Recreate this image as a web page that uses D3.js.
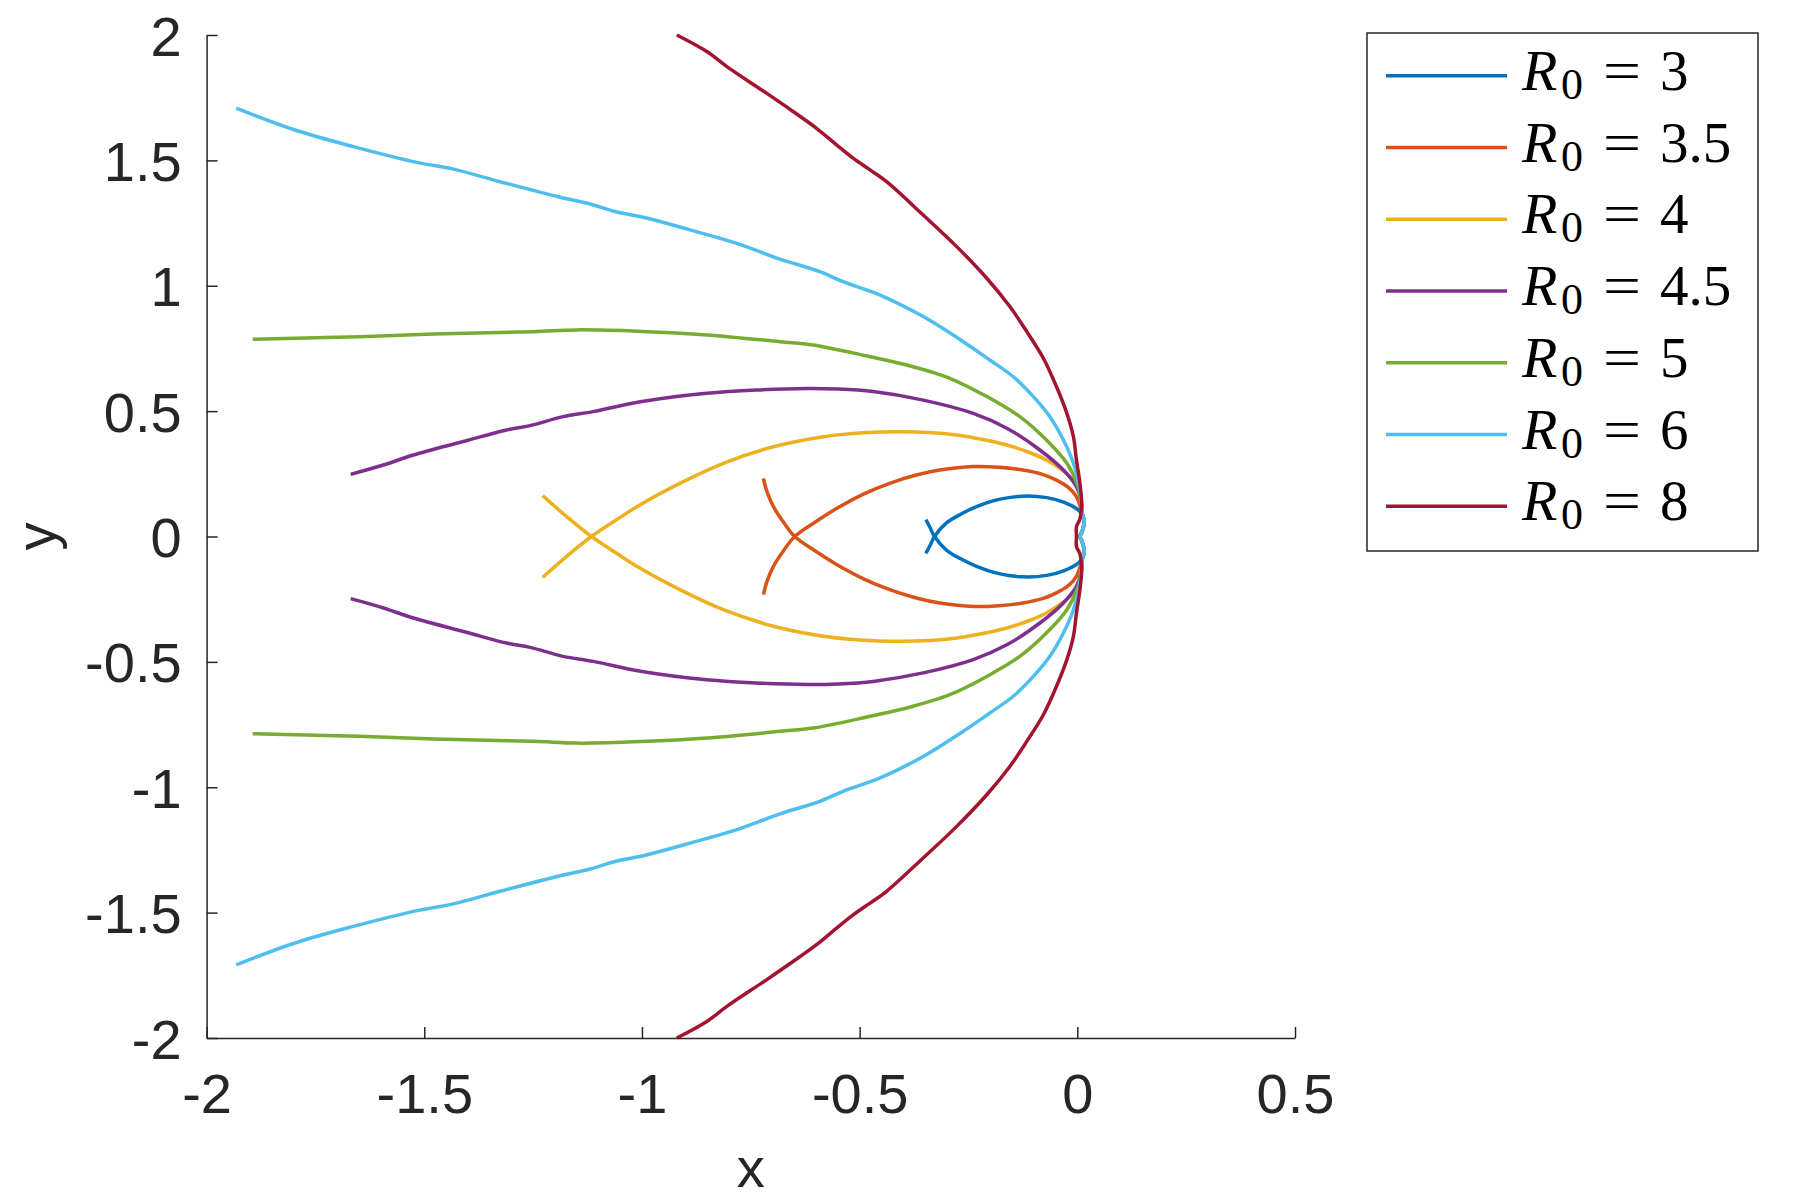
<!DOCTYPE html>
<html lang="en" dir="ltr">
  <head>
    <meta charset="utf-8">
    <title>Trajectories</title>
    <style>
      body { margin: 0; background: #fff; }
      svg { display: block; }
    </style>
  </head>
  <body>
      <svg></svg>
      <script src="https://d3js.org/d3.v7.min.js"></script>
      <script type="text/javascript">
        // upper branch of each curve (curves are symmetric in y)
        var r3 = [[-0.348,-0.067],[-0.338,-0.035],[-0.328,0],[-0.30,0.055],[-0.269,0.088],[-0.23,0.12],[-0.18,0.148],
          [-0.125,0.161],[-0.07,0.155],[-0.03,0.136],[0.002,0.106],[0.012,0.085],[0.016,0.06],[0.011,0.02],[0.006,0]];
        var r35 = [[-0.721,-0.232],[-0.712,-0.175],[-0.698,-0.119],[-0.672,-0.05],[-0.649,0],[-0.60,0.06],[-0.546,0.119],
          [-0.49,0.17],[-0.431,0.212],[-0.37,0.245],[-0.316,0.265],[-0.239,0.279],[-0.18,0.276],[-0.125,0.265],
          [-0.08,0.248],[-0.048,0.225],[-0.02,0.195],[-0.002,0.159],[0.012,0.085],[0.016,0.06],[0.011,0.02],[0.006,0]];
        var r4 = [[-1.228,-0.163],[-1.173,-0.079],[-1.116,0],[-1.06,0.065],[-1.005,0.126],[-0.905,0.219],
          [-0.813,0.292],[-0.698,0.358],[-0.583,0.398],[-0.50,0.413],[-0.406,0.418],[-0.34,0.415],[-0.277,0.405],
          [-0.22,0.388],[-0.162,0.365],[-0.11,0.335],[-0.071,0.305],[-0.035,0.265],[-0.009,0.225],[0.006,0.17],
          [0.012,0.085],[0.016,0.06],[0.011,0.02],[0.006,0]];
        var r45 = [[-1.669,0.248],[-1.594,0.285],[-1.525,0.325],[-1.403,0.382],[-1.311,0.425],[-1.257,0.442],
          [-1.181,0.478],[-1.112,0.498],[-1.0,0.538],[-0.851,0.571],[-0.737,0.584],[-0.622,0.590],[-0.55,0.588],
          [-0.469,0.578],[-0.354,0.544],[-0.239,0.491],[-0.162,0.432],[-0.086,0.345],[-0.032,0.265],[-0.002,0.199],
          [0.008,0.15],[0.012,0.085],[0.016,0.06],[0.011,0.02],[0.006,0]];
        var r5 = [[-1.894,0.787],[-1.77,0.792],[-1.648,0.797],[-1.479,0.808],[-1.25,0.817],[-1.15,0.824],
          [-1.0,0.818],[-0.851,0.804],[-0.683,0.777],[-0.607,0.764],[-0.476,0.717],[-0.392,0.684],[-0.293,0.631],
          [-0.208,0.558],[-0.132,0.478],[-0.071,0.385],[-0.024,0.292],[0.002,0.199],[0.009,0.14],[0.012,0.085],
          [0.016,0.06],[0.011,0.02],[0.006,0]];
        var r6 = [[-1.932,1.708],[-1.797,1.621],[-1.663,1.555],[-1.514,1.491],[-1.433,1.465],[-1.326,1.415],
          [-1.188,1.353],[-1.119,1.326],[-1.062,1.296],[-0.99,1.27],[-0.890,1.223],[-0.782,1.169],[-0.683,1.106],
          [-0.591,1.056],[-0.538,1.016],[-0.453,0.963],[-0.354,0.877],[-0.262,0.777],[-0.201,0.704],[-0.147,0.637],
          [-0.101,0.558],[-0.063,0.478],[-0.032,0.385],[-0.009,0.292],[0.006,0.185],[0.012,0.085],[0.016,0.06],
          [0.011,0.02],[0.006,0]];
        var r8 = [[-0.920,2.0],[-0.851,1.934],[-0.805,1.874],[-0.714,1.768],[-0.653,1.695],[-0.599,1.628],
          [-0.553,1.562],[-0.515,1.509],[-0.476,1.462],[-0.438,1.415],[-0.354,1.282],[-0.277,1.156],[-0.208,1.030],
          [-0.155,0.917],[-0.116,0.817],[-0.078,0.711],[-0.048,0.598],[-0.024,0.491],[-0.009,0.398],[-0.002,0.305],
          [0.006,0.212],[0.010,0.132],[0.006,0.07],[-0.002,0.039],[-0.002,0]];

        var branches = [r3, r35, r4, r45, r5, r6, r8];
        var r0Labels = ["3", "3.5", "4", "4.5", "5", "6", "8"];
        var colors = ["#0072BD", "#D95319", "#EDB120", "#7E2F8E", "#77AC30", "#4DBEEE", "#A2142F"];
        var xTicks = [-2, -1.5, -1, -0.5, 0, 0.5];
        var yTicks = [-2, -1.5, -1, -0.5, 0, 0.5, 1, 1.5, 2];

        width = 1800;
        height = 1200;
        var axisColor = "#262626";
        svg = d3.select('svg')
              .attr("width", width)
              .attr("height", height)
              .style("font-family", "'Liberation Sans', Arial, sans-serif");

        var x = d3.scaleLinear().domain([-2, 0.5]).range([206.6, 1295]);
        var y = d3.scaleLinear().domain([-2, 2]).range([1038, 35]);

        // full curve: upper branch then its mirror back out
        function fullCurve(b) {
          var lower = b.map(function(p){ return [p[0], -p[1]]; }).reverse();
          return b.concat(lower.slice(1));
        }

        var line = d3.line()
                     .curve(d3.curveCatmullRom.alpha(0.5))
                     .x(function(d){ return x(d[0]); })
                     .y(function(d){ return y(d[1]); });

        svg.selectAll("path.curve")
           .data(branches)
           .enter()
           .append("path")
           .attr("class", "curve")
           .attr("d", function(d){ return line(fullCurve(d)); })
           .style("fill", "none")
           .style("stroke", function(d, i){ return colors[i]; })
           .style("stroke-width", 3.5)
           .style("stroke-linejoin", "round");

        var xAxis = svg.append("g")
                       .attr("transform", "translate(0," + y(-2) + ")")
                       .call(d3.axisBottom(x).tickValues(xTicks).tickSize(-11).tickSizeOuter(0)
                               .tickFormat(function(d){ return String(d); }));
        var yAxis = svg.append("g")
                       .attr("transform", "translate(" + x(-2) + ",0)")
                       .call(d3.axisLeft(y).tickValues(yTicks).tickSize(-11).tickSizeOuter(0)
                               .tickFormat(function(d){ return String(d); }));

        [xAxis, yAxis].forEach(function(a){
          a.select(".domain").style("stroke", axisColor).style("stroke-width", 1.5);
          a.selectAll(".tick line").style("stroke", axisColor).style("stroke-width", 1.5);
          a.selectAll(".tick text")
           .style("fill", axisColor)
           .style("font-size", "56px")
           .style("font-family", "'Liberation Sans', Arial, sans-serif");
        });
        xAxis.selectAll(".tick text").attr("y", 75).attr("dy", 0);
        yAxis.selectAll(".tick text").attr("x", -25).attr("dy", 20);

        svg.append("text")
           .attr("x", (x(-2) + x(0.5)) / 2)
           .attr("y", 1187)
           .attr("text-anchor", "middle")
           .style("font-size", "56px")
           .style("fill", axisColor)
           .text("x");
        svg.append("text")
           .attr("transform", "translate(55," + y(0) + ") rotate(-90)")
           .attr("text-anchor", "middle")
           .style("font-size", "56px")
           .style("fill", axisColor)
           .text("y");

        // legend
        var legend = svg.append("g");
        legend.append("rect")
              .attr("x", 1367).attr("y", 33)
              .attr("width", 391).attr("height", 518)
              .style("fill", "#fff")
              .style("stroke", axisColor)
              .style("stroke-width", 1.5);

        var entries = legend.selectAll("g.entry")
                            .data(r0Labels)
                            .enter()
                            .append("g")
                            .attr("class", "entry")
                            .attr("transform", function(d, i){ return "translate(0," + (75.8 + i * 71.75) + ")"; });

        entries.append("line")
               .attr("x1", 1386).attr("x2", 1507)
               .attr("y1", 0).attr("y2", 0)
               .style("stroke", function(d, i){ return colors[i]; })
               .style("stroke-width", 3.5);

        var serif = "'Liberation Serif', serif";
        entries.append("text")
               .attr("x", 1522).attr("y", 14)
               .style("font-family", serif).style("font-style", "italic")
               .style("font-size", "58px").style("fill", "#000")
               .text("R");
        entries.append("text")
               .attr("x", 1561).attr("y", 23)
               .style("font-family", serif)
               .style("font-size", "44px").style("fill", "#000")
               .text("0");
        entries.append("text")
               .attr("x", 1603).attr("y", 14)
               .attr("textLength", 38).attr("lengthAdjust", "spacingAndGlyphs")
               .style("font-family", serif)
               .style("font-size", "57px").style("fill", "#000")
               .text("=");
        entries.append("text")
               .attr("x", 1660).attr("y", 14)
               .style("font-family", serif)
               .style("font-size", "57px").style("fill", "#000")
               .text(function(d){ return d; });
      </script>
  </body>
</html>
